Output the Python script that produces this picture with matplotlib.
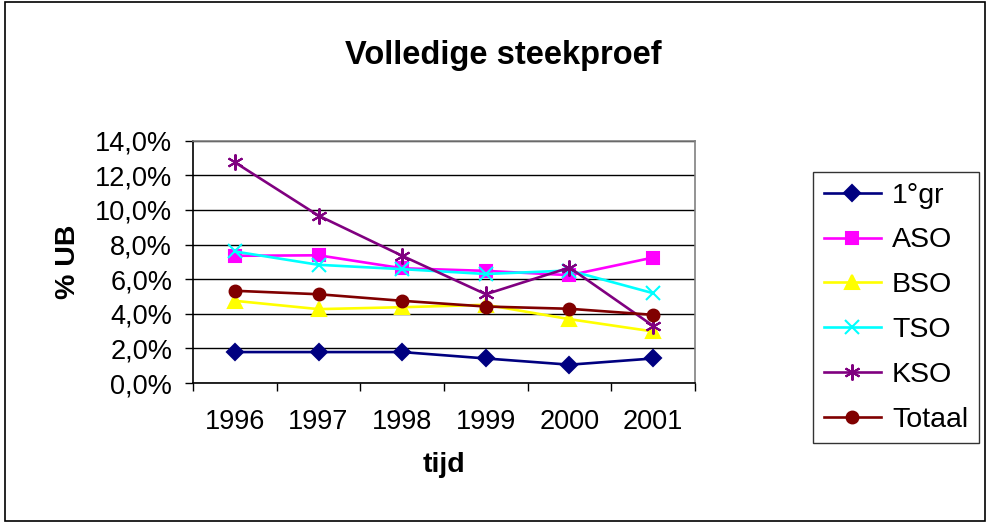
import matplotlib.pyplot as plt
from matplotlib.patches import Rectangle

plt.rcParams['font.family'] = ['Liberation Sans', 'DejaVu Sans']

years = ['1996', '1997', '1998', '1999', '2000', '2001']
gr1 = [1.79, 1.79, 1.79, 1.42, 1.06, 1.42]
aso = [7.35, 7.38, 6.63, 6.48, 6.23, 7.25]
bso = [4.75, 4.27, 4.38, 4.52, 3.69, 2.98]
tso = [7.60, 6.83, 6.58, 6.30, 6.50, 5.19]
kso = [12.75, 9.67, 7.35, 5.13, 6.67, 3.30]
totaal = [5.33, 5.13, 4.75, 4.42, 4.29, 3.94]

yticks = [0, 2, 4, 6, 8, 10, 12, 14]
ytick_labels = ['0,0%', '2,0%', '4,0%', '6,0%', '8,0%', '10,0%', '12,0%', '14,0%']

series = [
    ('1°gr', gr1, '#000080', 'D', 8.5),
    ('ASO', aso, '#FF00FF', 's', 8),
    ('BSO', bso, '#FFFF00', '^', 9.5),
    ('TSO', tso, '#00FFFF', 'x', 9.5),
    ('KSO', kso, '#800080', (6, 2, 0), 11.5),
    ('Totaal', totaal, '#800000', 'o', 8.5),
]

fig = plt.figure(figsize=(9.9, 5.24), dpi=100)
ax = fig.add_axes([0.195, 0.269, 0.507, 0.4625])

x = range(len(years))
for name, vals, col, mk, ms in series:
    ax.plot(x, vals, color=col, lw=1.9, marker=mk, markersize=ms,
            markeredgecolor=col, markerfacecolor=col, markeredgewidth=1.5,
            label=name, clip_on=False)

ax.set_xlim(-0.5, len(years) - 0.5)
ax.set_ylim(0, 14)
ax.set_yticks(yticks)
ax.set_yticklabels(ytick_labels, fontsize=19.5)
ax.set_xticks(list(x))
ax.set_xticklabels(years, fontsize=19.5)
ax.set_xticks([i - 0.5 for i in range(len(years) + 1)], minor=True)
ax.tick_params(axis='x', which='major', length=0, pad=19)
ax.tick_params(axis='x', which='minor', length=6, width=1, direction='out')
ax.tick_params(axis='y', length=6, width=1, direction='out', pad=9)
ax.grid(axis='y', color='black', lw=1)
ax.set_axisbelow(True)
for s in ax.spines.values():
    s.set_color('#808080')
    s.set_linewidth(1.2)
ax.spines['left'].set_color('black')
ax.spines['bottom'].set_color('black')

ax.set_ylabel('% UB', fontsize=20.5, fontweight='bold', labelpad=10)
ax.set_xlabel('tijd', fontsize=20.5, fontweight='bold', labelpad=12)
fig.text(0.508, 0.895, 'Volledige steekproef', ha='center', va='center',
         fontsize=23.5, fontweight='bold')

leg = fig.legend(loc='upper left', bbox_to_anchor=(0.821, 0.672), fontsize=20.5,
                 frameon=True, fancybox=False, edgecolor='black',
                 handlelength=2.0, labelspacing=0.66, borderpad=0.38,
                 handletextpad=0.4, borderaxespad=0)
leg.get_frame().set_linewidth(1)

fig.patches.append(Rectangle((0.005, 0.006), 0.99, 0.99, transform=fig.transFigure,
                             fill=False, edgecolor='black', lw=1.2))

fig.savefig('out.png', dpi=100)
